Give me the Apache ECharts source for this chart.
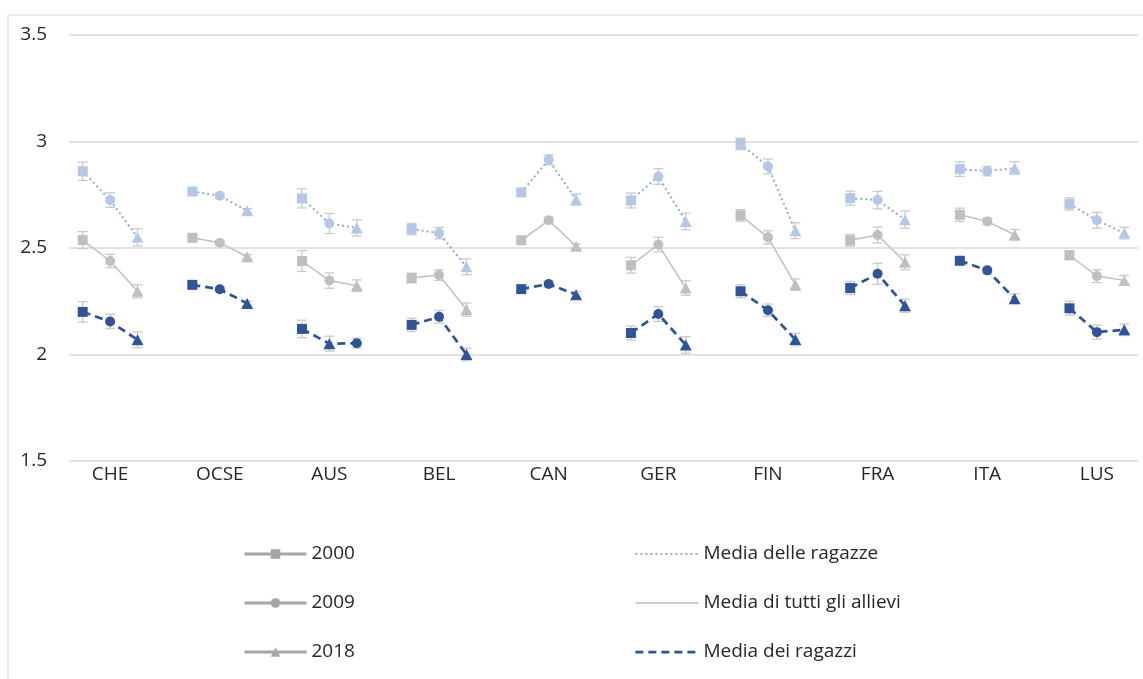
<!DOCTYPE html>
<html>
<head>
<meta charset="utf-8">
<style>
  html, body { margin: 0; padding: 0; background: #ffffff; }
  #chart { width: 1143px; height: 679px; }
</style>
<script src="https://cdn.jsdelivr.net/npm/echarts@6/dist/echarts.min.js"></script>
</head>
<body>
<div id="chart"></div>
<script>
// Paesi e anni dell'indagine
const countries = ['CHE', 'OCSE', 'AUS', 'BEL', 'CAN', 'GER', 'FIN', 'FRA', 'ITA', 'LUS'];
const years = ['2000', '2009', '2018'];

// Media delle ragazze [2000, 2009, 2018] per paese
const girls = [
  [2.860, 2.725, 2.550],
  [2.765, 2.745, 2.675],
  [2.733, 2.615, 2.594],
  [2.589, 2.570, 2.412],
  [2.761, 2.914, 2.727],
  [2.723, 2.836, 2.625],
  [2.988, 2.883, 2.581],
  [2.734, 2.725, 2.633],
  [2.870, 2.861, 2.875],
  [2.707, 2.630, 2.570]
];
// Media di tutti gli allievi
const allStudents = [
  [2.537, 2.439, 2.297],
  [2.548, 2.525, 2.459],
  [2.439, 2.347, 2.323],
  [2.359, 2.373, 2.211],
  [2.536, 2.630, 2.508],
  [2.419, 2.516, 2.312],
  [2.653, 2.550, 2.328],
  [2.536, 2.561, 2.433],
  [2.656, 2.625, 2.562],
  [2.466, 2.368, 2.348]
];
// Media dei ragazzi
const boys = [
  [2.200, 2.155, 2.069],
  [2.327, 2.306, 2.240],
  [2.120, 2.051, 2.053],
  [2.139, 2.177, 2.000],
  [2.307, 2.331, 2.281],
  [2.101, 2.190, 2.045],
  [2.297, 2.208, 2.070],
  [2.312, 2.379, 2.229],
  [2.440, 2.395, 2.262],
  [2.217, 2.105, 2.116]
];

// Errore standard (semi-ampiezza delle barre)
const girlsErr = [
  [0.043, 0.034, 0.040],
  [0.010, 0.010, 0.010],
  [0.045, 0.047, 0.038],
  [0.027, 0.027, 0.037],
  [0.010, 0.023, 0.026],
  [0.035, 0.037, 0.039],
  [0.027, 0.035, 0.037],
  [0.033, 0.041, 0.041],
  [0.034, 0.022, 0.030],
  [0.029, 0.037, 0.027]
];
const allErr = [
  [0.040, 0.031, 0.031],
  [0.010, 0.010, 0.010],
  [0.049, 0.036, 0.027],
  [0.023, 0.025, 0.031],
  [0.012, 0.015, 0.012],
  [0.037, 0.034, 0.034],
  [0.027, 0.031, 0.027],
  [0.027, 0.037, 0.035],
  [0.031, 0.015, 0.025],
  [0.020, 0.030, 0.023]
];
const boysErr = [
  [0.048, 0.034, 0.037],
  [0.010, 0.010, 0.010],
  [0.041, 0.035, 0.023],
  [0.031, 0.030, 0.029],
  [0.015, 0.015, 0.015],
  [0.033, 0.035, 0.039],
  [0.031, 0.029, 0.029],
  [0.031, 0.049, 0.031],
  [0.015, 0.015, 0.023],
  [0.033, 0.033, 0.027]
];

const yTicks = [1.5, 2, 2.5, 3, 3.5];

// ---- styling ----
const FONT = "'Open Sans', 'Noto Sans', sans-serif";
const TEXT = '#262626';
const GRID = '#d9d9d9';
const ERR = '#cacaca';
const markerShapes = ['rect', 'circle', 'triangle'];
const markerSizes = { rect: 10, circle: 10, triangle: [12, 11] };
// the boys' AUS markers are drawn in a different order
function markerOrder(key, country) {
  return (key === 'boys' && country === 'AUS') ? [0, 2, 1] : [0, 1, 2];
}

// one slot per year, plus an empty slot between countries
const slots = [];
const slotOf = [];
countries.forEach((c, i) => {
  slotOf.push(slots.length);
  years.forEach(y => slots.push(c + ' ' + y));
  if (i < countries.length - 1) slots.push(c + ' -');
});

function lineData(key, values) {
  const out = slots.map(() => '-');
  countries.forEach((c, i) => {
    const order = markerOrder(key, c);
    values[i].forEach((v, j) => {
      const shape = markerShapes[order[j]];
      out[slotOf[i] + j] = { value: v, symbol: shape, symbolSize: markerSizes[shape] };
    });
  });
  return out;
}

function errData(values, errs) {
  const out = [];
  countries.forEach((c, i) => {
    values[i].forEach((v, j) => out.push([slotOf[i] + j, v, errs[i][j]]));
  });
  return out;
}

function renderErr(params, api) {
  const x = api.value(0), v = api.value(1), e = api.value(2);
  const top = api.coord([x, v + e]);
  const bot = api.coord([x, v - e]);
  const cap = 5;
  const style = { stroke: ERR, lineWidth: 1.3 };
  return {
    type: 'group',
    children: [
      { type: 'line', shape: { x1: top[0], y1: top[1], x2: bot[0], y2: bot[1] }, style },
      { type: 'line', shape: { x1: top[0] - cap, y1: top[1], x2: top[0] + cap, y2: top[1] }, style },
      { type: 'line', shape: { x1: bot[0] - cap, y1: bot[1], x2: bot[0] + cap, y2: bot[1] }, style }
    ]
  };
}

const groups = [
  { key: 'girls', name: 'Media delle ragazze', values: girls, errs: girlsErr,
    marker: '#b4c7e7', line: { color: '#8faadc', width: 2, type: [2, 3] } },
  { key: 'all', name: 'Media di tutti gli allievi', values: allStudents, errs: allErr,
    marker: '#bfbfbf', line: { color: '#bfbfbf', width: 1.5, type: 'solid' } },
  { key: 'boys', name: 'Media dei ragazzi', values: boys, errs: boysErr,
    marker: '#2f5597', line: { color: '#2f5597', width: 2.75, type: [8, 5] } }
];

const series = [];
groups.forEach(g => {
  series.push({
    type: 'custom',
    name: g.key + '-err',
    renderItem: renderErr,
    data: errData(g.values, g.errs),
    z: 1,
    silent: true
  });
});
groups.forEach(g => {
  series.push({
    type: 'line',
    name: g.key,
    data: lineData(g.key, g.values),
    connectNulls: false,
    itemStyle: { color: g.marker, borderWidth: 0 },
    lineStyle: g.line,
    z: 3
  });
});
// legend entries
const yearColor = '#a6a6a6';
years.forEach((y, j) => {
  series.push({
    type: 'line', name: y, data: [],
    symbol: markerShapes[j], symbolSize: 9,
    itemStyle: { color: yearColor },
    lineStyle: { color: yearColor, width: 3 }
  });
});
groups.forEach(g => {
  series.push({
    type: 'line', name: g.name, data: [],
    symbol: 'circle',
    itemStyle: { color: 'rgba(0,0,0,0)', borderWidth: 0 },
    lineStyle: g.line
  });
});

const legendText = { fontFamily: FONT, fontSize: 19, color: TEXT, lineHeight: 22 };

const option = {
  animation: false,
  backgroundColor: '#ffffff',
  textStyle: { fontFamily: FONT },
  graphic: [{
    type: 'rect', silent: true,
    shape: { x: 8, y: 15, width: 1160, height: 700 },
    style: { fill: 'none', stroke: '#d9d9d9', lineWidth: 1 }
  }],
  grid: { left: 69, right: 5, top: 35, bottom: 218 },
  xAxis: {
    type: 'category',
    data: slots,
    boundaryGap: true,
    axisLine: { show: false },
    axisTick: { show: false },
    splitLine: { show: false },
    axisLabel: {
      interval: (idx) => (slotOf.indexOf(idx - 1) !== -1),
      formatter: (v) => v.split(' ')[0],
      fontFamily: FONT, fontSize: 19, color: TEXT, margin: 4
    }
  },
  yAxis: {
    type: 'value',
    min: yTicks[0], max: yTicks[yTicks.length - 1], interval: 0.5,
    axisLine: { show: false },
    axisTick: { show: false },
    splitLine: { show: true, lineStyle: { color: GRID, width: 1.5 } },
    axisLabel: {
      fontFamily: FONT, fontSize: 19, color: TEXT, margin: 22,
      formatter: (v) => String(v)
    }
  },
  legend: [
    {
      orient: 'vertical', left: 238, top: 538,
      itemWidth: 62, itemHeight: 12, itemGap: 27,
      data: years,
      lineStyle: { width: 'inherit' },
      textStyle: legendText,
      selectedMode: false
    },
    {
      orient: 'vertical', left: 629, top: 538,
      itemWidth: 63, itemHeight: 12, itemGap: 27,
      data: groups.map(g => g.name),
      lineStyle: { width: 'inherit' },
      textStyle: legendText,
      selectedMode: false
    }
  ],
  series
};

const chart = echarts.init(document.getElementById('chart'), null, { renderer: 'canvas' });
chart.setOption(option);
</script>
</body>
</html>
